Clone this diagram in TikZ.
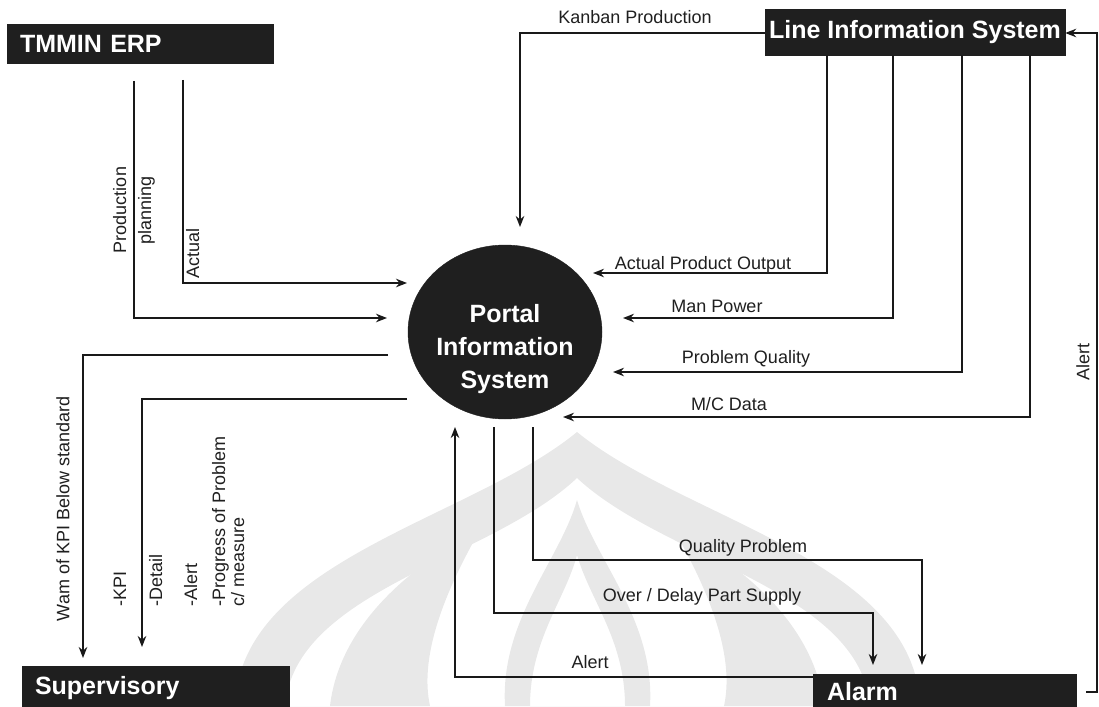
\documentclass[tikz,border=0pt]{standalone}
\usepackage{fontspec}
\setmainfont{Liberation Sans}
\usetikzlibrary{arrows.meta,shapes.geometric,calc}

\begin{document}
\begin{tikzpicture}[x=1pt,y=-1pt,
  flow/.style={draw=black!90, line width=2.8pt, -{Stealth[length=11pt,width=8.5pt]}},
  sysbox/.style={fill=black!88, draw=black!88, text=white,
    font=\fontsize{25}{28}\selectfont\bfseries, inner ysep=0pt},
  hub/.style={ellipse, fill=black!88, draw=black!88},
  hubtext/.style={text=white, align=center, inner sep=0pt,
    font=\fontsize{25}{33}\selectfont\bfseries},
  lbl/.style={font=\fontsize{18}{20}\selectfont, text=black!88, inner sep=0pt},
  wm/.style={fill=black!9},
]
\useasboundingbox (0,0) rectangle (1099,706);

% faint emblem in the background
\fill[wm, even odd rule]
  (235,706) .. controls (240,560) and (470,520) .. (577,432)
            .. controls (685,520) and (915,560) .. (920,706) -- cycle
  (285,706) .. controls (295,590) and (490,560) .. (577,478)
            .. controls (665,560) and (860,590) .. (870,706) -- cycle;
\fill[wm, even odd rule]
  (505,706) .. controls (500,620) and (560,560) .. (577,500)
            .. controls (595,560) and (655,620) .. (650,706) -- cycle
  (530,706) .. controls (530,640) and (565,600) .. (577,555)
            .. controls (590,600) and (625,640) .. (625,706) -- cycle;
\fill[wm] (330,706) .. controls (340,620) and (420,560) .. (480,530)
          .. controls (440,600) and (420,660) .. (430,706) -- cycle;
\fill[wm] (824,706) .. controls (814,620) and (734,560) .. (674,530)
          .. controls (714,600) and (734,660) .. (724,706) -- cycle;

% systems
\node[sysbox, minimum height=39pt, text width=240pt, inner xsep=13pt, align=left]
  (erp) at (140,43.5) {TMMIN ERP};
\node[sysbox, minimum width=300pt, minimum height=46pt, inner xsep=2pt]
  (lis) at (915,32) {Line Information System};
\node[sysbox, minimum height=44pt, text width=241pt, inner xsep=13pt, align=left]
  (sup) at (155.5,688) {Supervisory};
\node[sysbox, minimum height=36pt, text width=235pt, inner xsep=14pt, align=left]
  (alarm) at (944.5,692) {Alarm};
\node[hub, minimum width=194pt, minimum height=174pt] (portal) at (505,332) {};
\node[hubtext] (portaltext) at (505,349) {Portal\\Information\\System};

% free ends next to the portal
\coordinate (ppA) at (134,81);
\coordinate (ppB) at (387,318);
\coordinate (acA) at (183,80);
\coordinate (acB) at (407,283);
\coordinate (wnA) at (388,355);
\coordinate (kpA) at (407,399);
\coordinate (kbB) at (520,227);
\coordinate (apoB) at (593,273);
\coordinate (mpB) at (623,318);
\coordinate (pqB) at (613,372);
\coordinate (mcB) at (563,417);
\coordinate (alB) at (455,427);
\coordinate (odA) at (494,427);
\coordinate (qpA) at (533,427);
\coordinate (alR) at (1086,692);

% ERP to portal
\draw[flow] (ppA) |- (ppB);
\draw[flow] (acA) |- (acB);
% portal to supervisory
\draw[flow] (wnA) -| (83,658);
\draw[flow] (kpA) -| (142,647);
% line information system to portal
\draw[flow] (lis.west |- 0,33) -| (kbB);
\draw[flow] (lis.south -| 827,0) |- (apoB);
\draw[flow] (lis.south -| 893,0) |- (mpB);
\draw[flow] (lis.south -| 962,0) |- (pqB);
\draw[flow] (lis.south -| 1030,0) |- (mcB);
% alarm links
\draw[flow] (alarm.west |- 0,677) -| (alB);
\draw[flow] (odA) |- (873,613) -- (873,665);
\draw[flow] (qpA) |- (922,560) -- (922,665);
\draw[flow] (alR) -| (1097,33) -- (lis.east |- 0,33);

% labels
\node[lbl, anchor=base] at (635,24) {Kanban Production};
\node[lbl, rotate=90, align=center, font=\fontsize{18}{25}\selectfont] at (134,210) {Production\\planning};
\node[lbl, rotate=90, anchor=base west] at (199,279) {Actual};
\node[lbl, rotate=90] at (63,509) {Wam of KPI Below standard};
\node[lbl, rotate=90, anchor=base west] at (126,607) {-KPI};
\node[lbl, rotate=90, anchor=base west] at (162,607) {-Detail};
\node[lbl, rotate=90, anchor=base west] at (197,607) {-Alert};
\node[lbl, rotate=90, anchor=base west] at (225,607) {-Progress of Problem};
\node[lbl, rotate=90, anchor=base west] at (244,607) {c/ measure};
\node[lbl, anchor=base] at (703,269) {Actual Product Output};
\node[lbl, anchor=base] at (717,312) {Man Power};
\node[lbl, anchor=base] at (746,363) {Problem Quality};
\node[lbl, anchor=base] at (729,410) {M/C Data};
\node[lbl, anchor=base] at (743,552) {Quality Problem};
\node[lbl, anchor=base] at (702,601) {Over / Delay Part Supply};
\node[lbl, anchor=base] at (590,668) {Alert};
\node[lbl, rotate=90] at (1083,362) {Alert};
\end{tikzpicture}
\end{document}
